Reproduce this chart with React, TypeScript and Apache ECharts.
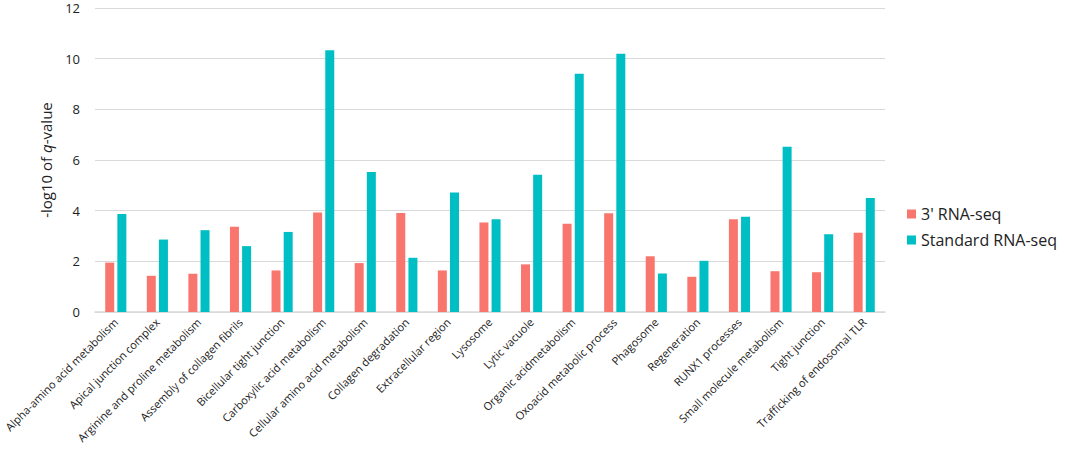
import React, { useEffect, useRef } from "react";
import * as echarts from "echarts";

const categories = [
  "Alpha-amino acid metabolism",
  "Apical junction complex",
  "Arginine and proline metabolism",
  "Assembly of collagen fibrils",
  "Bicellular tight junction",
  "Carboxylic acid metabolism",
  "Cellular amino acid metabolism",
  "Collagen degradation",
  "Extracellular region",
  "Lysosome",
  "Lytic vacuole",
  "Organic acidmetabolism",
  "Oxoacid metabolic process",
  "Phagosome",
  "Regeneration",
  "RUNX1 processes",
  "Small molecule metabolism",
  "Tight junction",
  "Trafficking of endosomal TLR",
];

const threePrime = [1.95, 1.43, 1.51, 3.37, 1.64, 3.93, 1.93, 3.91, 1.64, 3.53, 1.88, 3.48, 3.9, 2.2, 1.39, 3.66, 1.61, 1.57, 3.13];
const standard = [3.87, 2.86, 3.23, 2.6, 3.16, 10.33, 5.53, 2.14, 4.72, 3.66, 5.42, 9.4, 10.19, 1.52, 2.02, 3.76, 6.52, 3.07, 4.5];

const seriesNames = ["3' RNA-seq", "Standard RNA-seq"];
const yTicks = { min: 0, max: 12, interval: 2 };

const FONT = "'Open Sans', 'Noto Sans', sans-serif";

export default function App() {
  const ref = useRef<HTMLDivElement>(null);
  useEffect(() => {
    document.body.style.margin = "0";
    const chart = echarts.init(ref.current!, null, { renderer: "svg" });
    chart.setOption({
      animation: false,
      textStyle: { fontFamily: FONT },
      grid: {
        left: 95,
        right: 180,
        top: 8,
        bottom: 144,
        containLabel: false,
        outerBoundsMode: "none",
      },
      legend: {
        orient: "vertical",
        left: 902,
        top: 201,
        itemWidth: 9,
        itemHeight: 9,
        itemGap: 10,
        icon: "rect",
        textStyle: { fontSize: 16, color: "#222", fontFamily: FONT },
        data: seriesNames,
      },
      xAxis: {
        type: "category",
        data: categories,
        axisLine: { show: true, lineStyle: { color: "#d9d9d9", width: 1.5 } },
        axisTick: { show: false },
        axisLabel: {
          rotate: 45,
          interval: 0,
          fontSize: 11.1,
          color: "#222",
          margin: 8,
          fontFamily: FONT,
        },
      },
      yAxis: {
        type: "value",
        min: yTicks.min,
        max: yTicks.max,
        interval: yTicks.interval,
        name: "{a|-log10 of }{b|q}{a|-value}",
        nameLocation: "middle",
        nameGap: 42,
        nameRotate: 90,
        nameTextStyle: {
          rich: {
            a: { fontSize: 15, color: "#222", fontFamily: FONT },
            b: { fontSize: 15, color: "#222", fontStyle: "italic", fontFamily: FONT },
          },
        },
        axisLine: { show: false },
        axisTick: { show: false },
        axisLabel: { fontSize: 13, lineHeight: 14, color: "#222", margin: 15, fontFamily: FONT },
        splitLine: { lineStyle: { color: "#d9d9d9", width: 1 } },
      },
      series: [
        {
          name: seriesNames[0],
          type: "bar",
          data: threePrime,
          barWidth: 9,
          barGap: "35%",
          itemStyle: { color: "#F8766D" },
        },
        {
          name: seriesNames[1],
          type: "bar",
          data: standard,
          barWidth: 9,
          barGap: "35%",
          itemStyle: { color: "#00BFC4" },
        },
      ],
    });
    return () => chart.dispose();
  }, []);
  return (
    <div
      ref={ref}
      style={{ width: 1065, height: 456, position: "absolute", left: 0, top: 0 }}
    />
  );
}
